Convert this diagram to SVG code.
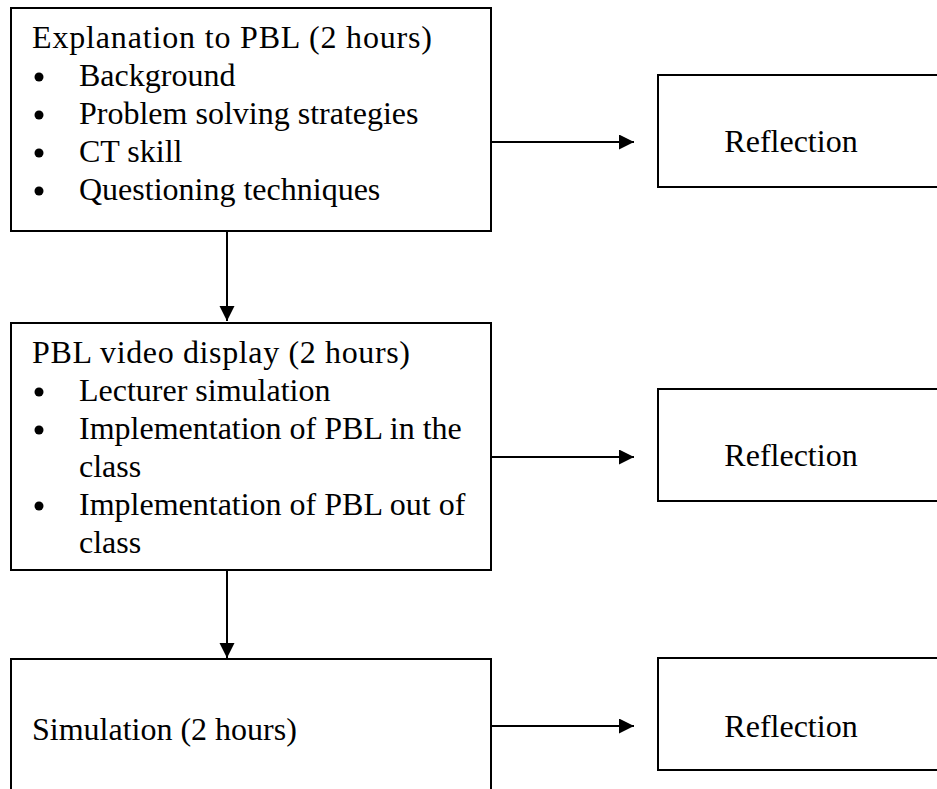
<svg xmlns="http://www.w3.org/2000/svg" width="937" height="789" viewBox="0 0 937 789">
<style>
.box{fill:#fff;stroke:#000;stroke-width:2}
.t{font-family:"Liberation Serif","Times New Roman",serif;font-size:32px;fill:#000}
.c{fill:none;stroke:#000;stroke-width:2}
.b{fill:#000}
</style>
<defs>
<marker id="ah" markerUnits="userSpaceOnUse" markerWidth="16" markerHeight="16" refX="15" refY="7.5" orient="auto">
<path d="M0,0 L15,7.5 L0,15 z" fill="#000"/>
</marker>
</defs>
<rect width="937" height="789" fill="#fff"/>
<g id="connectors">
<line class="c" x1="491" y1="142" x2="634" y2="142" marker-end="url(#ah)"/>
<line class="c" x1="491" y1="457" x2="634" y2="457" marker-end="url(#ah)"/>
<line class="c" x1="491" y1="726" x2="634" y2="726" marker-end="url(#ah)"/>
<line class="c" x1="227" y1="232" x2="227" y2="321" marker-end="url(#ah)"/>
<line class="c" x1="227" y1="570" x2="227" y2="658" marker-end="url(#ah)"/>
</g>
<g id="node-explanation">
<rect class="box" x="11" y="8" width="480" height="223"/>
<text class="t" x="32" y="48" textLength="400" lengthAdjust="spacing">Explanation to PBL (2 hours)</text>
<circle class="b" cx="39" cy="77" r="4.5"/><text class="t" x="79" y="86">Background</text>
<circle class="b" cx="39" cy="115" r="4.5"/><text class="t" x="79" y="124">Problem solving strategies</text>
<circle class="b" cx="39" cy="153" r="4.5"/><text class="t" x="79" y="162">CT skill</text>
<circle class="b" cx="39" cy="191" r="4.5"/><text class="t" x="79" y="200">Questioning techniques</text>
</g>
<g id="node-video">
<rect class="box" x="11" y="323" width="480" height="247"/>
<text class="t" x="32" y="363" textLength="378" lengthAdjust="spacing">PBL video display (2 hours)</text>
<circle class="b" cx="39" cy="392" r="4.5"/><text class="t" x="79" y="401">Lecturer simulation</text>
<circle class="b" cx="39" cy="430" r="4.5"/><text class="t" x="79" y="439">Implementation of PBL in the</text>
<text class="t" x="79" y="477">class</text>
<circle class="b" cx="39" cy="506" r="4.5"/><text class="t" x="79" y="515">Implementation of PBL out of</text>
<text class="t" x="79" y="553">class</text>
</g>
<g id="node-simulation">
<rect class="box" x="11" y="659" width="480" height="200"/>
<text class="t" x="32" y="740">Simulation (2 hours)</text>
</g>
<g id="node-reflection-1">
<rect class="box" x="658" y="75" width="300" height="112"/>
<text class="t" x="791" y="152" text-anchor="middle">Reflection</text>
</g>
<g id="node-reflection-2">
<rect class="box" x="658" y="389" width="300" height="112"/>
<text class="t" x="791" y="466" text-anchor="middle">Reflection</text>
</g>
<g id="node-reflection-3">
<rect class="box" x="658" y="658" width="300" height="112"/>
<text class="t" x="791" y="737" text-anchor="middle">Reflection</text>
</g>
</svg>
